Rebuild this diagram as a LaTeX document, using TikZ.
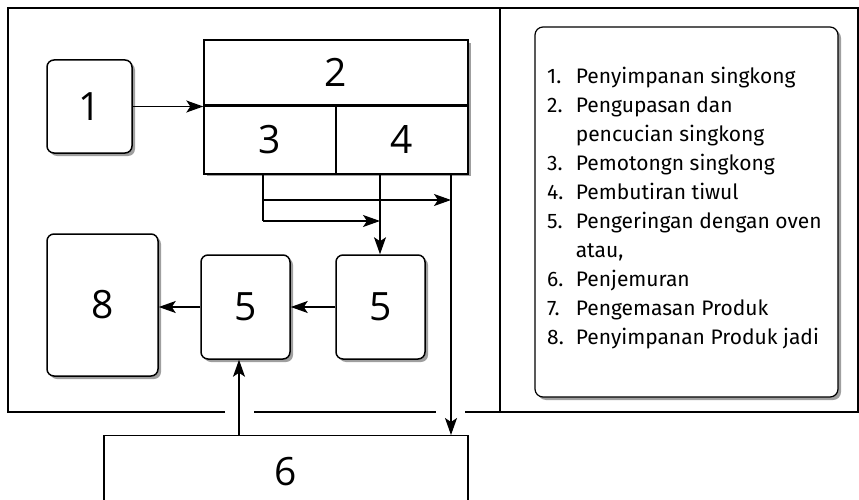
\documentclass[tikz,border=0pt]{standalone}
\usepackage{fontspec}
\setmainfont{Open Sans}
\newfontfamily\legendfont{Fira Sans}
\usetikzlibrary{arrows.meta,shadows}

\tikzset{
  frame/.style={line width=2.2pt},
  shade box/.style={draw, line width=1.5pt, fill=white, rounded corners=7pt,
    drop shadow={shadow xshift=3pt, shadow yshift=-3pt, opacity=.75}},
  plain box/.style={draw, line width=1.4pt, fill=white},
  digit/.style={font=\fontsize{39}{41}\selectfont},
  arr/.style={line width=1.3pt, -{Stealth[length=17pt, width=12pt, inset=4pt]}},
  link/.style={line width=1.3pt}
}

\begin{document}
\begin{tikzpicture}[x=1pt, y=-1pt]
		\clip (0,0) rectangle (859,500);
		\fill[white] (0,0) rectangle (859,500);
		% outer frame with gaps for the arrows
		\draw[frame] (225,412) -- (8,412) -- (8,8) -- (858,8) -- (858,412) -- (465,412);
		\draw[frame] (254,412) -- (436,412);
		\draw[frame] (500,8) -- (500,412);
		% process boxes
		\node[shade box, minimum width=85pt, minimum height=93pt, digit] (n1) at (89.5,106.5) {1};
		\node[plain box, minimum width=264pt, minimum height=133pt,
		  drop shadow={shadow xshift=3pt, shadow yshift=-3pt, opacity=.75}] (blk) at (336,106.5) {};
		\node[plain box, minimum width=264pt, minimum height=65pt, digit] (n2) at (336,72.5) {2};
		\node[plain box, minimum width=132pt, minimum height=68pt, digit] (n3) at (270,140) {3};
		\node[plain box, minimum width=132pt, minimum height=68pt, digit] (n4) at (402,140) {4};
		\node[shade box, minimum width=111pt, minimum height=142pt, digit] (n8) at (102.5,305) {8};
		\node[shade box, minimum width=89pt, minimum height=104pt, digit] (n5a) at (245.5,307) {5};
		\node[shade box, minimum width=89pt, minimum height=104pt, digit] (n5b) at (380.5,307) {5};
		\node[plain box, minimum width=364pt, minimum height=76pt, anchor=north,
		  inner sep=0pt] (n6) at (286,435) {};
		\node[digit] (t6) at (286,472) {6};
		% connectors
		\coordinate (p3) at (263,173);
		\coordinate (p4) at (380,173);
		\coordinate (p5) at (451,173);
		\coordinate (q6) at (239,435);
		\draw[arr] (n1.east) -- (n1.east -| blk.west);
		\draw[link] (p3) -- (263,221);
		\draw[arr] (263,221) -- (380,221);
		\draw[arr] (263,200) -- (451,200);
		\draw[arr] (p4) -- (p4 |- n5b.north);
		\draw[arr] (p5) -- (p5 |- n6.north);
		\draw[arr] (n5b.west) -- (n5b.west -| n5a.east);
		\draw[arr] (n5a.west) -- (n5a.west -| n8.east);
		\draw[arr] (q6) -- (q6 |- n5a.south);
		% legend
		\node[shade box, rounded corners=8pt, line width=1.2pt, minimum width=303pt, minimum height=370pt] (lgd) at (686.5,212) {};
		\node[anchor=base west, inner sep=0pt, font=\legendfont\fontsize{21}{29}\selectfont] (lst) at (547,84)
		  {\begin{tabular}[t]{@{}l@{\hspace{12pt}}l@{}}
		    1. & Penyimpanan singkong\\
		    2. & Pengupasan dan\\
		       & pencucian singkong\\
		    3. & Pemotongn singkong\\
		    4. & Pembutiran tiwul\\
		    5. & Pengeringan dengan oven\\
		       & atau,\\
		    6. & Penjemuran\\
		    7. & Pengemasan Produk\\
		    8. & Penyimpanan Produk jadi
		  \end{tabular}};
\end{tikzpicture}
\end{document}
